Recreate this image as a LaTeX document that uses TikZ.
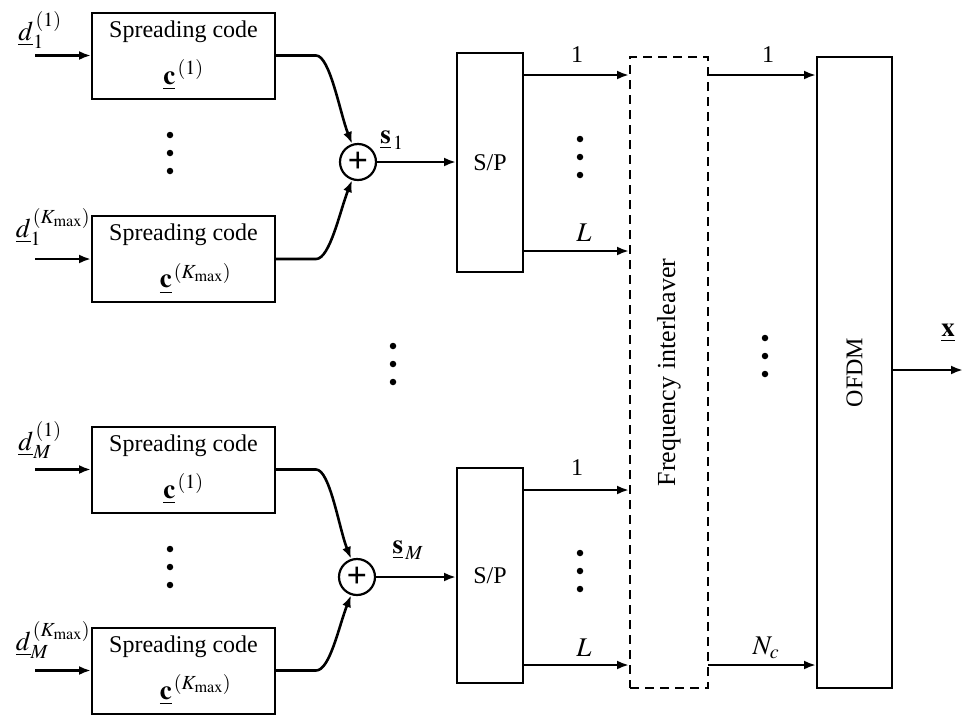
\documentclass[tikz,border=0pt]{standalone}
\usepackage{mathptmx}
\usepackage{fontspec}
\setmainfont{Liberation Serif}
\usetikzlibrary{arrows.meta,calc}
\newcommand{\lblmath}[1]{{\fontsize{27}{30}\selectfont$#1$}}
\begin{document}
\begin{tikzpicture}[x=1pt,y=-1pt,
  txt/.style={font=\fontsize{24}{28}\selectfont, inner sep=0pt},
  box/.style={draw, line width=2pt, inner sep=0pt, font=\fontsize{24}{28}\selectfont},
  scbox/.style={box, minimum width=183pt, minimum height=86pt, align=center},
  vbox/.style={box, minimum width=66pt},
  arr/.style={line width=2.6pt, -{Latex[length=12pt,width=9pt]}},
  sumn/.style={draw, circle, line width=2.2pt, minimum size=36pt, inner sep=0pt, font=\fontsize{36}{36}\selectfont\bfseries},
  dotn/.style={circle, fill, inner sep=0pt, minimum size=6.5pt}
]
\fill[white] (0,0) rectangle (963,716);
\useasboundingbox (0,0) rectangle (963,716);

% spreading code boxes
\node[scbox] (sc1) at (183.5,55.5) {Spreading code\\[16pt]\lblmath{\underline{\mathbf{c}}^{\,(1)}}};
\node[scbox] (sc2) at (183.5,259) {Spreading code\\[16pt]\hspace*{24pt}\lblmath{\underline{\mathbf{c}}^{\,(K_{\max})}}};
\node[scbox] (sc3) at (183.5,469.5) {Spreading code\\[16pt]\lblmath{\underline{\mathbf{c}}^{\,(1)}}};
\node[scbox] (sc4) at (183.5,670.5) {Spreading code\\[16pt]\hspace*{24pt}\lblmath{\underline{\mathbf{c}}^{\,(K_{\max})}}};

% input labels
\node[txt] (d1) at (40,30) {\lblmath{\underline{d}_1^{\,(1)}}};
\node[txt] (d2) at (53,227) {\lblmath{\underline{d}_1^{\,(K_{\max})}}};
\node[txt] (d3) at (40,440) {\lblmath{\underline{d}_M^{\,(1)}}};
\node[txt] (d4) at (53,640) {\lblmath{\underline{d}_M^{\,(K_{\max})}}};

% input arrows
\coordinate (i1) at (35,55.5);
\coordinate (i2) at (35,259);
\coordinate (i3) at (35,469.5);
\coordinate (i4) at (35,670.5);
\draw[arr] (i1) -- (sc1.west);
\draw[arr] (i2) -- (sc2.west);
\draw[arr] (i3) -- (sc3.west);
\draw[arr] (i4) -- (sc4.west);

% vertical dots left
\foreach \y in {135,153,171} \node[dotn] at (170,\y) {};
\foreach \y in {549,567,585} \node[dotn] at (170,\y) {};
% middle dots
\foreach \y in {346,364,382} \node[dotn] at (393,\y) {};

% summers
\node[sumn] (sum1) at (358,162) {+};
\node[sumn] (sum2) at (357,577) {+};

\draw[arr] (sc1.east) -- ++(40,0) .. controls +(14,0) and +(-12,-30) .. (sum1.108);
\draw[arr] (sc2.east) -- ++(40,0) .. controls +(14,0) and +(-12,30) .. (sum1.252);
\draw[arr] (sc3.east) -- ++(40,0) .. controls +(14,0) and +(-12,-30) .. (sum2.108);
\draw[arr] (sc4.east) -- ++(40,0) .. controls +(14,0) and +(-12,30) .. (sum2.252);

% S/P boxes
\node[vbox, minimum height=219pt] (sp1) at (490,162.5) {S/P};
\node[vbox, minimum height=215pt] (sp2) at (490,575.5) {S/P};

\draw[arr] (sum1.east) -- (sum1 -| sp1.west);
\draw[arr] (sum2.east) -- (sum2 -| sp2.west);
\node[txt] (s1) at (392,140) {\lblmath{\underline{\mathbf{s}}_{\,1}}};
\node[txt] (sM) at (408,550) {\lblmath{\underline{\mathbf{s}}_{\,M}}};

% interleaver and OFDM
\node[box, dashed, dash pattern=on 9pt off 6pt, minimum width=78pt, minimum height=631pt] (fi) at (669,372.5) {};
\node[txt, rotate=90, font=\fontsize{26}{30}\selectfont] (fit) at (fi.center) {Frequency interleaver};
\node[box, minimum width=75pt, minimum height=631pt] (ofdm) at (854.5,372.5) {};
\node[txt, rotate=90] (ofdmt) at (ofdm.center) {OFDM};

% S/P outputs
\coordinate (a1) at (523,75);
\coordinate (a2) at (523,251);
\coordinate (a3) at (523,490);
\coordinate (a4) at (523,665);
\draw[arr] (a1) -- (a1 -| fi.west);
\draw[arr] (a2) -- (a2 -| fi.west);
\draw[arr] (a3) -- (a3 -| fi.west);
\draw[arr] (a4) -- (a4 -| fi.west);
\node[txt] (l1) at (577,55) {1};
\node[txt] (l2) at (584,233) {\lblmath{L}};
\node[txt] (l3) at (577,468) {1};
\node[txt] (l4) at (584,648) {\lblmath{L}};
\foreach \y in {139,157,175} \node[dotn] at (580,\y) {};
\foreach \y in {553,571,589} \node[dotn] at (580,\y) {};

% interleaver outputs
\coordinate (b1) at (708,75);
\coordinate (b2) at (708,665);
\draw[arr] (b1) -- (b1 -| ofdm.west);
\draw[arr] (b2) -- (b2 -| ofdm.west);
\node[txt] (m1) at (768,55) {1};
\node[txt] (m2) at (766,648) {\lblmath{N_c}};
\foreach \y in {338,356,374} \node[dotn] at (765,\y) {};

% output
\coordinate (xo) at (963,370);
\draw[arr] (xo -| ofdm.east) -- (xo);
\node[txt] (xl) at (948,333) {\lblmath{\underline{\mathbf{x}}}};
\end{tikzpicture}
\end{document}
